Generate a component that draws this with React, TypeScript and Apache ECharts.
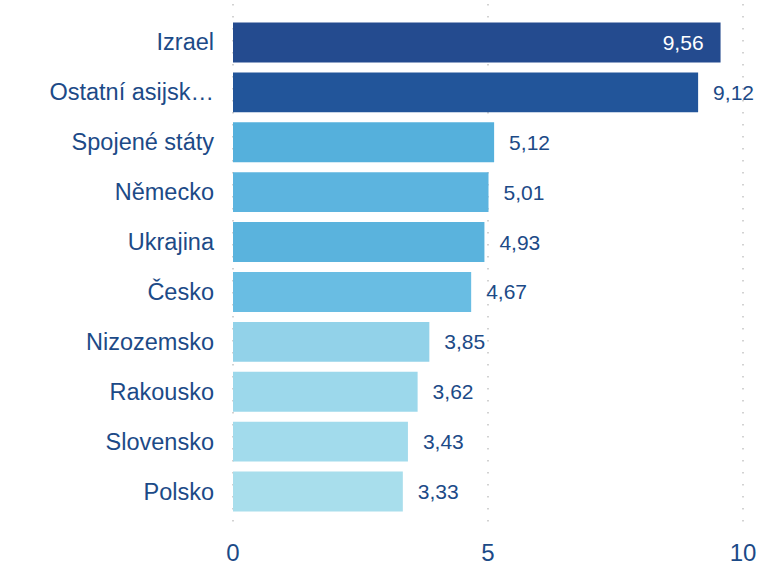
import React, { useEffect, useRef } from "react";
import * as echarts from "echarts";

const categories = [
  "Izrael",
  "Ostatní asijsk…",
  "Spojené státy",
  "Německo",
  "Ukrajina",
  "Česko",
  "Nizozemsko",
  "Rakousko",
  "Slovensko",
  "Polsko",
];
const values = [9.56, 9.12, 5.12, 5.01, 4.93, 4.67, 3.85, 3.62, 3.43, 3.33];
const barColors = [
  "#244b8f",
  "#22559a",
  "#55b0dc",
  "#5cb4df",
  "#5ab3dd",
  "#69bde3",
  "#92d2e9",
  "#9cd8eb",
  "#a2dbec",
  "#a8deec",
];
const xTicks = [0, 5, 10];

const TEXT = "#1c4a87";
const FONT = "Liberation Sans, Arial, sans-serif";

export default function App() {
  const ref = useRef<HTMLDivElement>(null);
  useEffect(() => {
    const chart = echarts.init(ref.current!, null, { renderer: "svg" });
    chart.setOption({
      animation: false,
      grid: [
        { left: 233, right: 39, top: 17.5, bottom: 48.5, containLabel: false, outerBoundsMode: "none" },
        { left: 233, right: 39, top: 4, bottom: 35, containLabel: false, outerBoundsMode: "none" },
      ],
      xAxis: [
        {
          type: "value",
          gridIndex: 0,
          min: xTicks[0],
          max: xTicks[xTicks.length - 1],
          interval: 5,
          axisLine: { show: false },
          axisTick: { show: false },
          axisLabel: {
            color: TEXT,
            fontSize: 24,
            fontFamily: FONT,
            margin: 24,
          },
          splitLine: { show: false },
        },
        {
          type: "value",
          gridIndex: 1,
          min: xTicks[0],
          max: xTicks[xTicks.length - 1],
          interval: 5,
          axisLine: { show: false },
          axisTick: { show: false },
          axisLabel: { show: false },
          splitLine: {
            show: true,
            lineStyle: { color: "#c4c4c4", type: [1.5, 10.5], width: 1.5 },
          },
        },
      ],
      yAxis: [
        {
          type: "category",
          gridIndex: 0,
          inverse: true,
          data: categories,
          axisLine: { show: false },
          axisTick: { show: false },
          axisLabel: {
            color: TEXT,
            fontSize: 23.5,
            fontFamily: FONT,
            margin: 19,
          },
        },
        {
          type: "value",
          gridIndex: 1,
          show: false,
        },
      ],
      series: [
        {
          type: "bar",
          xAxisIndex: 0,
          yAxisIndex: 0,
          barCategoryGap: "20%",
          data: values.map((v, i) => ({
            value: v,
            itemStyle: { color: barColors[i] },
            label:
              i === 0
                ? { position: "insideRight", color: "#ffffff", distance: 17 }
                : { position: "right", color: TEXT, distance: 15 },
          })),
          label: {
            show: true,
            fontSize: 21,
            fontFamily: FONT,
            formatter: (p: any) => p.value.toFixed(2).replace(".", ","),
          },
          z: 3,
        },
      ],
    });
    return () => chart.dispose();
  }, []);
  return (
    <div
      ref={ref}
      style={{ position: "absolute", left: 0, top: 0, width: 782, height: 565 }}
    />
  );
}
